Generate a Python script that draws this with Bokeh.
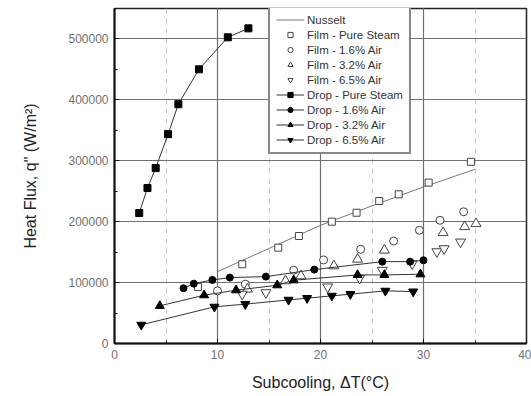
from bokeh.plotting import figure
from bokeh.models import (Range1d, SingleIntervalTicker, BasicTickFormatter,
                          Legend, LegendItem)
from bokeh.embed import file_html
from bokeh.resources import INLINE

# ---- data ----
nusselt_x = [10, 15, 20, 25, 30, 35]
nusselt_y = [118000, 156000, 194000, 226000, 257000, 286000]

film_pure_x = [8.1, 12.4, 15.9, 17.9, 21.1, 23.5, 25.7, 27.6, 30.5, 34.6]
film_pure_y = [92900, 130100, 157300, 176500, 200000, 214700, 233900, 244900, 264200, 298300]

film_16_x = [10.0, 12.7, 17.4, 20.3, 23.9, 27.1, 29.6, 31.6, 33.9]
film_16_y = [86400, 97400, 120300, 137200, 154700, 168300, 185900, 202300, 216300]

film_32_x = [12.9, 16.6, 18.1, 21.3, 23.6, 26.2, 31.9, 34.0, 35.1]
film_32_y = [89200, 102800, 111000, 127400, 138300, 153100, 181900, 191800, 196700]

film_65_x = [12.4, 14.7, 20.7, 23.8, 26.0, 28.9, 31.3, 32.0, 33.6]
film_65_y = [81000, 83600, 92900, 107200, 120300, 131100, 150800, 155700, 166700]

drop_pure_x = [2.4, 3.2, 4.0, 5.2, 6.2, 8.2, 11.0, 13.0]
drop_pure_y = [214200, 255200, 288000, 343700, 392900, 450200, 502700, 517400]

drop_16_x = [6.7, 7.7, 9.5, 11.2, 14.7, 19.4, 26.0, 28.7, 30.0]
drop_16_y = [90800, 98300, 104400, 108200, 109800, 121300, 134400, 134400, 136700]

drop_32_x = [4.4, 8.7, 11.8, 15.8, 17.4, 23.6, 26.2, 29.7]
drop_32_y = [61800, 79300, 87500, 95700, 103900, 112600, 112600, 113700]

drop_65_x = [2.6, 9.7, 12.7, 16.9, 18.7, 21.1, 22.9, 26.3, 29.0]
drop_65_y = [30600, 60200, 64600, 71600, 74400, 78200, 81000, 86400, 85200]

FONT = "Liberation Sans"

p = figure(width=531, height=396, output_backend="svg", toolbar_location=None,
           x_range=Range1d(0, 40), y_range=Range1d(0, 550000),
           min_border_left=114, min_border_right=5, min_border_top=8,
           min_border_bottom=53)
p.outline_line_color = "#222222"
p.outline_line_width = 1.5
p.background_fill_color = "white"

# axes
p.xaxis.ticker = SingleIntervalTicker(interval=10, num_minor_ticks=2)
p.yaxis.ticker = SingleIntervalTicker(interval=100000, num_minor_ticks=2)
p.yaxis.formatter = BasicTickFormatter(use_scientific=False)
for ax in (p.xaxis, p.yaxis):
    ax.axis_line_width = 2
    ax.axis_line_color = "#111111"
    ax.major_tick_in = 5
    ax.major_tick_out = 0
    ax.minor_tick_in = 3
    ax.minor_tick_out = 0
    ax.major_tick_line_color = "#111111"
    ax.minor_tick_line_color = "#111111"
    ax.major_label_text_font = FONT
    ax.major_label_text_font_size = "12px"
    ax.major_label_text_color = "#707070"
    ax.axis_label_text_font = FONT
    ax.axis_label_text_font_size = "16px"
    ax.axis_label_text_font_style = "normal"
    ax.axis_label_text_color = "#222222"
p.xaxis.axis_label = "Subcooling, \u0394T(\u00b0C)"
p.yaxis.axis_label = "Heat Flux, q\" (W/m\u00b2)"
p.xaxis.major_label_standoff = 6
p.yaxis.major_label_standoff = 6
p.xaxis.axis_label_standoff = 12
p.yaxis.axis_label_standoff = 26

# grids
p.xgrid.grid_line_color = "#707070"
p.ygrid.grid_line_color = "#707070"
p.xgrid.grid_line_width = 1.2
p.ygrid.grid_line_width = 1.2
p.xgrid.minor_grid_line_color = "#c8c8c8"
p.xgrid.minor_grid_line_dash = "5 5"

# glyphs
r_nu = p.line(nusselt_x, nusselt_y, line_color="#777777", line_width=1)

ocol = "#444444"
r_fp = p.scatter(film_pure_x, film_pure_y, marker="square", size=7,
                 fill_color="white", line_color=ocol, line_width=1)
r_f16 = p.scatter(film_16_x, film_16_y, marker="circle", size=8,
                  fill_color="white", line_color=ocol, line_width=1)
r_f32 = p.scatter(film_32_x, film_32_y, marker="triangle", size=10,
                  fill_color="white", line_color=ocol, line_width=1)
r_f65 = p.scatter(film_65_x, film_65_y, marker="inverted_triangle", size=10,
                  fill_color="white", line_color=ocol, line_width=1)

lcol = "#333333"
l_dp = p.line(drop_pure_x, drop_pure_y, line_color=lcol, line_width=1)
s_dp = p.scatter(drop_pure_x, drop_pure_y, marker="square", size=7,
                 fill_color="black", line_color="black")
l_d16 = p.line(drop_16_x, drop_16_y, line_color=lcol, line_width=1)
s_d16 = p.scatter(drop_16_x, drop_16_y, marker="circle", size=7,
                  fill_color="black", line_color="black")
l_d32 = p.line(drop_32_x, drop_32_y, line_color=lcol, line_width=1)
s_d32 = p.scatter(drop_32_x, drop_32_y, marker="triangle", size=9,
                  fill_color="black", line_color="black")
l_d65 = p.line(drop_65_x, drop_65_y, line_color=lcol, line_width=1)
s_d65 = p.scatter(drop_65_x, drop_65_y, marker="inverted_triangle", size=9,
                  fill_color="black", line_color="black")

items = [
    LegendItem(label="Nusselt", renderers=[r_nu]),
    LegendItem(label="Film - Pure Steam", renderers=[r_fp]),
    LegendItem(label="Film - 1.6% Air", renderers=[r_f16]),
    LegendItem(label="Film - 3.2% Air", renderers=[r_f32]),
    LegendItem(label="Film - 6.5% Air", renderers=[r_f65]),
    LegendItem(label="Drop - Pure Steam", renderers=[l_dp, s_dp]),
    LegendItem(label="Drop - 1.6% Air", renderers=[l_d16, s_d16]),
    LegendItem(label="Drop - 3.2% Air", renderers=[l_d32, s_d32]),
    LegendItem(label="Drop - 6.5% Air", renderers=[l_d65, s_d65]),
]
legend = Legend(items=items, location=(154, 189))
legend.border_line_color = "#111111"
legend.border_line_width = 2
legend.background_fill_color = "white"
legend.background_fill_alpha = 1
legend.label_text_font = FONT
legend.label_text_font_size = "11.5px"
legend.label_text_color = "#333333"
legend.glyph_width = 28
legend.glyph_height = 13
legend.label_height = 13
legend.spacing = 2
legend.padding = 6
legend.margin = 0
legend.label_standoff = 3
p.add_layout(legend, "center")

open("out.html", "w").write(file_html(p, INLINE))
